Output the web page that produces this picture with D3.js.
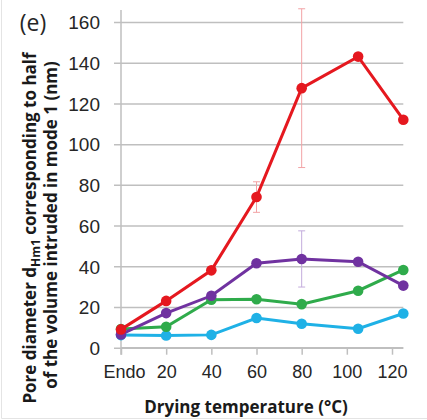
<!DOCTYPE html>
<html>
<head>
<meta charset="utf-8">
<script src="https://d3js.org/d3.v7.min.js"></script>
<style>
  body { margin: 0; background: #fff; }
  svg { font-family: "Open Sans", sans-serif; }
  .grid line { stroke: #bfbfbf; stroke-width: 1.5; }
  .tick text { fill: #262626; }
</style>
</head>
<body>
<div id="chart"></div>
<script>
// drying temperatures (0 = Endo)
var temps = [0, 20, 40, 60, 80, 105, 125];
var xTicks = [0, 20, 40, 60, 80, 100, 120];
var yTicks = [0, 20, 40, 60, 80, 100, 120, 140, 160];

var redVals    = [9, 23, 38, 74, 127.5, 143, 112];
var purpleVals = [6.5, 17, 25.5, 41.5, 43.6, 42.2, 30.5];
var greenVals  = [9.2, 10.3, 23.6, 23.8, 21.4, 28, 38.2];
var blueVals   = [6.2, 6, 6.3, 14.6, 11.8, 9.3, 16.8];

// error bars: [temp, half-width]
var redErr    = [[60, 7.5], [80, 39]];
var purpleErr = [[80, 13.8]];

var series = [
  { name: "blue",   values: blueVals,   color: "#1fb1e6", err: [], errColor: "#9fd8f2" },
  { name: "green",  values: greenVals,  color: "#2fab4b", err: [], errColor: "#a0d8aa" },
  { name: "purple", values: purpleVals, color: "#7032a0", err: purpleErr, errColor: "#c3acdc" },
  { name: "red",    values: redVals,    color: "#e5181f", err: redErr, errColor: "#f2a3a5" }
];

var width = 427, height = 420;

var x = d3.scaleLinear().domain([0, 125]).range([121, 403.3]);
var y = d3.scaleLinear().domain([0, 160]).range([347.7, 22]);

var svg = d3.select("#chart").append("svg")
  .attr("width", width)
  .attr("height", height);

// faint frame of the original figure
svg.append("line").attr("x1", 1.5).attr("x2", 1.5).attr("y1", 0).attr("y2", 418.5)
  .attr("stroke", "#e4e4e4");
svg.append("line").attr("x1", 1.5).attr("x2", width).attr("y1", 418.5).attr("y2", 418.5)
  .attr("stroke", "#e4e4e4");

/* gridlines + y labels */
var yAxis = d3.axisLeft(y)
  .tickValues(yTicks)
  .tickSize(-(403.3 - 114))
  .tickPadding(0)
  .tickFormat(d3.format("d"));

var gy = svg.append("g")
  .attr("class", "grid")
  .attr("transform", "translate(114,0)")
  .call(yAxis);
gy.select(".domain").remove();
gy.selectAll(".tick text")
  .attr("x", -14)
  .attr("dy", "0.36em")
  .style("font-size", "19px");

// y axis line (runs a bit past the top gridline)
svg.append("line")
  .attr("x1", x(0)).attr("x2", x(0))
  .attr("y1", 10).attr("y2", y(0) + 7)
  .attr("stroke", "#bfbfbf").attr("stroke-width", 1.5);

/* x axis */
var xAxis = d3.axisBottom(x)
  .tickValues(xTicks)
  .tickSize(7)
  .tickPadding(6)
  .tickFormat(d => d === 0 ? "Endo" : d);

var gx = svg.append("g")
  .attr("class", "grid")
  .attr("transform", `translate(0,${y(0)})`)
  .call(xAxis);
gx.select(".domain").attr("stroke", "#bfbfbf").attr("stroke-width", 1.5)
  .attr("d", `M${x(0)},0H${x(125)}`);
gx.selectAll(".tick text").style("font-size", "18px").attr("dy", "0.95em");
gx.selectAll(".tick").filter(d => d === 0).select("text").attr("dx", "3");

/* error bars */
series.forEach(function(s) {
  var g = svg.append("g").attr("stroke", s.errColor).attr("stroke-width", 1);
  s.err.forEach(function(e) {
    var i = temps.indexOf(e[0]);
    var v = s.values[i];
    var cx = x(e[0]);
    g.append("line").attr("x1", cx).attr("x2", cx).attr("y1", y(v - e[1])).attr("y2", y(v + e[1]));
    g.append("line").attr("x1", cx - 3.5).attr("x2", cx + 3.5).attr("y1", y(v - e[1])).attr("y2", y(v - e[1]));
    g.append("line").attr("x1", cx - 3.5).attr("x2", cx + 3.5).attr("y1", y(v + e[1])).attr("y2", y(v + e[1]));
  });
});

/* lines and markers */
var line = d3.line()
  .x((d, i) => x(temps[i]))
  .y(d => y(d));

series.forEach(function(s) {
  svg.append("path")
    .attr("d", line(s.values))
    .attr("fill", "none")
    .attr("stroke", s.color)
    .attr("stroke-width", 3);
  svg.append("g").selectAll("circle")
    .data(s.values).enter()
    .append("circle")
    .attr("cx", (d, i) => x(temps[i]))
    .attr("cy", d => y(d))
    .attr("r", 5.3)
    .attr("fill", s.color);
});

/* titles */
svg.append("text")
  .attr("x", 33).attr("y", 31)
  .attr("text-anchor", "middle")
  .style("font-size", "23px")
  .attr("fill", "#262626")
  .text("(e)");

svg.append("text")
  .attr("x", 246).attr("y", 413)
  .attr("text-anchor", "middle")
  .style("font-size", "17px")
  .style("font-weight", "bold")
  .attr("fill", "#1a1a1a")
  .text("Drying temperature (°C)");

var yt = svg.append("text")
  .attr("transform", "translate(36,228) rotate(-90)")
  .attr("text-anchor", "middle")
  .style("font-size", "17px")
  .style("font-weight", "bold")
  .attr("fill", "#1a1a1a");
yt.append("tspan").text("Pore diameter d");
yt.append("tspan").attr("dy", 4).style("font-size", "12px").text("Hm1");
yt.append("tspan").attr("dy", -4).text(" corresponding to half");

svg.append("text")
  .attr("transform", "translate(57,225) rotate(-90)")
  .attr("text-anchor", "middle")
  .style("font-size", "17px")
  .style("font-weight", "bold")
  .attr("fill", "#1a1a1a")
  .text("of the volume intruded in mode 1 (nm)");
</script>
</body>
</html>
